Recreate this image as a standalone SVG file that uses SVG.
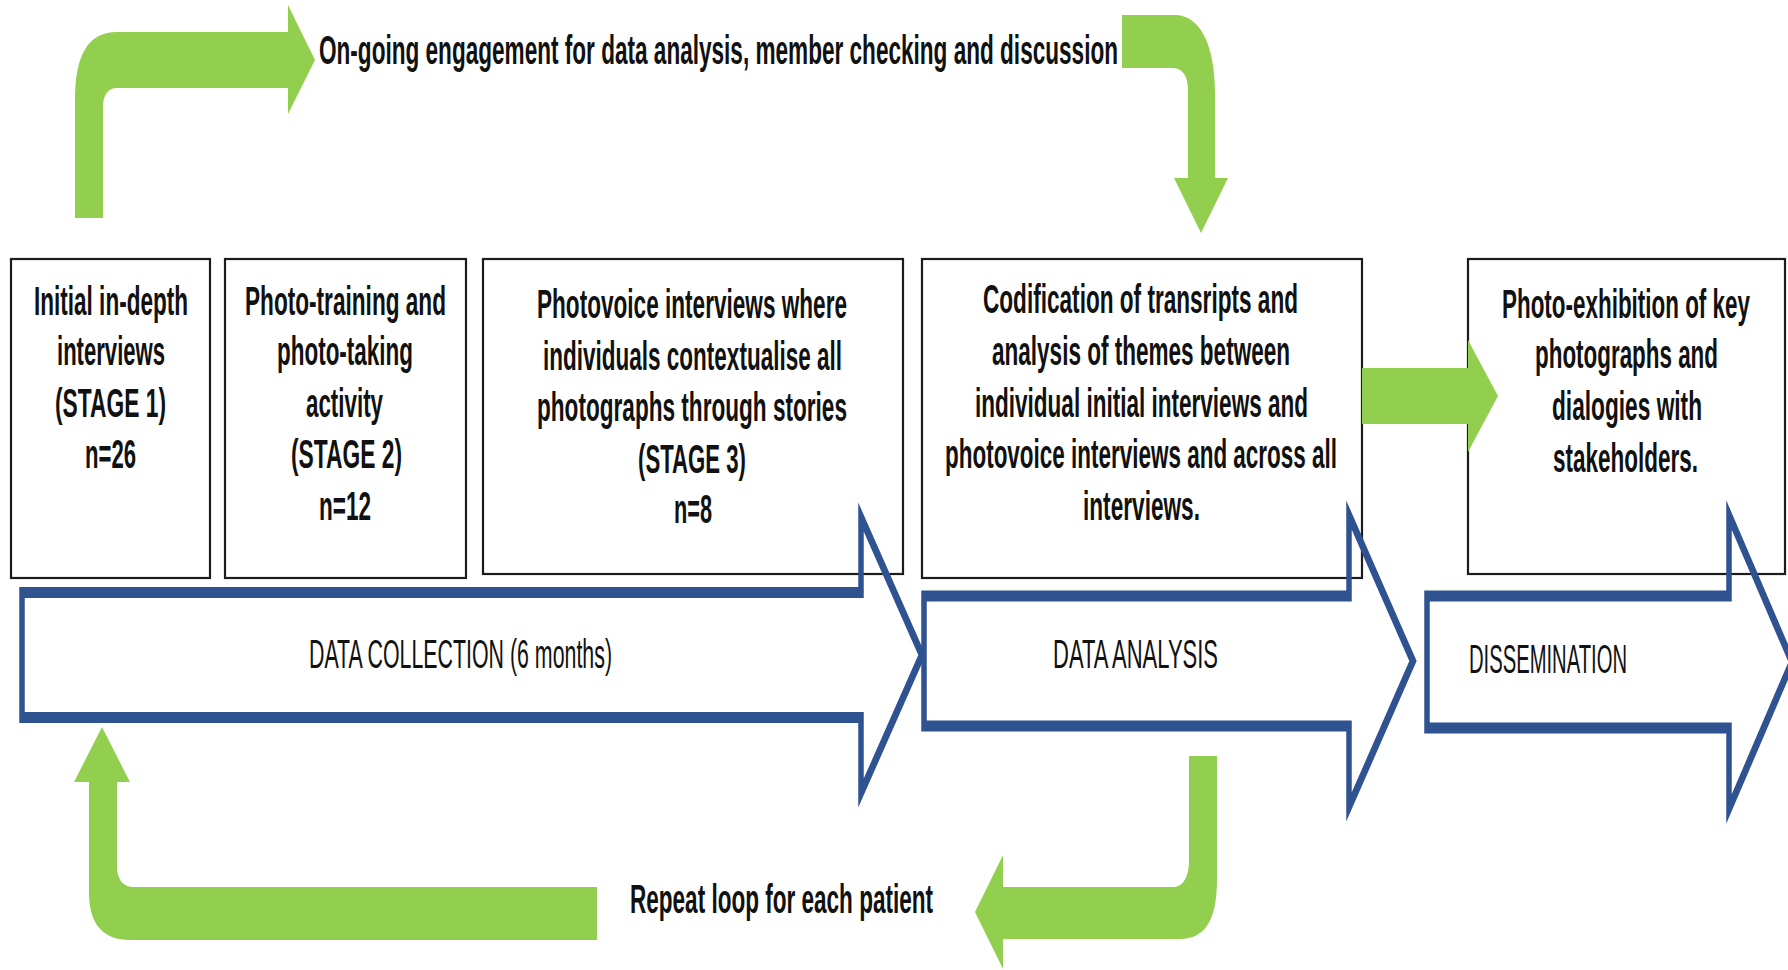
<svg xmlns="http://www.w3.org/2000/svg" width="1788" height="970" viewBox="0 0 1788 970">
  <style>
    .box { fill: #ffffff; stroke: #1c1c1c; stroke-width: 2.2; }
    .phase { fill: none; stroke: #2f5290; stroke-width: 5.5; stroke-linejoin: miter; stroke-miterlimit: 8; }
    .flow { fill: #92cf4e; }
    .t { font-family: "Liberation Sans", Arial, sans-serif; font-weight: bold; font-size: 40px; fill: #111111; }
    .pl { font-family: "Liberation Sans", Arial, sans-serif; font-weight: normal; font-size: 41px; fill: #111111; }
  </style>
  <rect width="1788" height="970" fill="#ffffff"/>

  <!-- stage boxes -->
  <g id="stage1">
    <rect class="box" x="11" y="259" width="199" height="319"/>
    <text class="t" x="34" y="315" textLength="154" lengthAdjust="spacingAndGlyphs">Initial in-depth</text>
    <text class="t" x="57" y="365" textLength="108" lengthAdjust="spacingAndGlyphs">interviews</text>
    <text class="t" x="55" y="417" textLength="111" lengthAdjust="spacingAndGlyphs">(STAGE 1)</text>
    <text class="t" x="85" y="468" textLength="51" lengthAdjust="spacingAndGlyphs">n=26</text>
  </g>
  <g id="stage2">
    <rect class="box" x="225" y="259" width="241" height="319"/>
    <text class="t" x="245" y="315" textLength="201" lengthAdjust="spacingAndGlyphs">Photo-training and</text>
    <text class="t" x="277" y="365" textLength="136" lengthAdjust="spacingAndGlyphs">photo-taking</text>
    <text class="t" x="306" y="417" textLength="77" lengthAdjust="spacingAndGlyphs">activity</text>
    <text class="t" x="291" y="468" textLength="111" lengthAdjust="spacingAndGlyphs">(STAGE 2)</text>
    <text class="t" x="319" y="520" textLength="52" lengthAdjust="spacingAndGlyphs">n=12</text>
  </g>
  <g id="stage3">
    <rect class="box" x="483" y="259" width="420" height="315"/>
    <text class="t" x="537" y="318" textLength="310" lengthAdjust="spacingAndGlyphs">Photovoice interviews where</text>
    <text class="t" x="543" y="370" textLength="299" lengthAdjust="spacingAndGlyphs">individuals contextualise all</text>
    <text class="t" x="537" y="421" textLength="310" lengthAdjust="spacingAndGlyphs">photographs through stories</text>
    <text class="t" x="638" y="473" textLength="108" lengthAdjust="spacingAndGlyphs">(STAGE 3)</text>
    <text class="t" x="674" y="523" textLength="38" lengthAdjust="spacingAndGlyphs">n=8</text>
  </g>
  <g id="analysis">
    <rect class="box" x="922" y="259" width="440" height="319"/>
    <text class="t" x="983" y="313" textLength="315" lengthAdjust="spacingAndGlyphs">Codification of transripts and</text>
    <text class="t" x="992" y="365" textLength="298" lengthAdjust="spacingAndGlyphs">analysis of themes between</text>
    <text class="t" x="975" y="417" textLength="333" lengthAdjust="spacingAndGlyphs">individual initial interviews and</text>
    <text class="t" x="945" y="468" textLength="392" lengthAdjust="spacingAndGlyphs">photovoice interviews and across all</text>
    <text class="t" x="1083" y="520" textLength="117" lengthAdjust="spacingAndGlyphs">interviews.</text>
  </g>
  <g id="exhibition">
    <rect class="box" x="1468" y="259" width="317" height="315"/>
    <text class="t" x="1502" y="318" textLength="248" lengthAdjust="spacingAndGlyphs">Photo-exhibition of key</text>
    <text class="t" x="1535" y="368" textLength="183" lengthAdjust="spacingAndGlyphs">photographs and</text>
    <text class="t" x="1552" y="420" textLength="150" lengthAdjust="spacingAndGlyphs">dialogies with</text>
    <text class="t" x="1553" y="472" textLength="145" lengthAdjust="spacingAndGlyphs">stakeholders.</text>
  </g>

  <!-- phase chevrons (outline stretched vertically so the long edges read heavier) -->
  <g id="phase-collection">
    <g transform="translate(0,655) scale(1,2)">
      <path class="phase" d="M22 -31.25 L861 -31.25 L861 -69 L922 0 L861 69 L861 31.25 L22 31.25 Z"/>
    </g>
    <text class="pl" x="309" y="668" textLength="303" lengthAdjust="spacingAndGlyphs">DATA COLLECTION (6 months)</text>
  </g>
  <g id="phase-analysis">
    <g transform="translate(0,661) scale(1,2)">
      <path class="phase" d="M924 -32.5 L1349 -32.5 L1349 -73 L1413 0 L1349 73 L1349 32.5 L924 32.5 Z"/>
    </g>
    <text class="pl" x="1053" y="668" textLength="165" lengthAdjust="spacingAndGlyphs">DATA ANALYSIS</text>
  </g>
  <g id="phase-dissemination">
    <g transform="translate(0,662) scale(1,2)">
      <path class="phase" d="M1427 -33 L1729 -33 L1729 -73.5 L1792 0 L1729 73.5 L1729 33 L1427 33 Z"/>
    </g>
    <text class="pl" x="1469" y="673" textLength="158" lengthAdjust="spacingAndGlyphs">DISSEMINATION</text>
  </g>

  <!-- green flow arrows -->
  <g id="connectors">
    <path id="engage-out" class="flow" d="M75 218 L75 100 C75 55 88 32 117 32 L288 32 L288 5 L315 60 L288 114 L288 88 L117 88 C108 88 103 95 103 107 L103 218 Z"/>
    <path id="engage-in" class="flow" d="M1122 15 L1175 15 C1200 15 1215 45 1215 93 L1215 178 L1228 178 L1201 233 L1174 178 L1188 178 L1188 90 C1188 75 1182 68 1172 68 L1122 68 Z"/>
    <path id="to-exhibition" class="flow" d="M1362 368 L1468 368 L1468 340 L1498 396 L1468 452 L1468 424 L1362 424 Z"/>
    <path id="loop-out" class="flow" d="M1189 756 L1217 756 L1217 880 C1217 920 1205 939 1180 939 L1003 939 L1003 969 L975 912 L1003 855 L1003 887 L1173 887 C1183 887 1189 877 1189 860 Z"/>
    <path id="loop-in" class="flow" d="M597 887 L133 887 C124 887 117 880 117 867 L117 782 L130 782 L102 727 L74 782 L89 782 L89 893 C89 925 104 940 130 940 L597 940 Z"/>
    <text class="t" x="319" y="64" textLength="799" lengthAdjust="spacingAndGlyphs">On-going engagement for data analysis, member checking and discussion</text>
    <text class="t" x="630" y="913" font-size="42" textLength="303" lengthAdjust="spacingAndGlyphs">Repeat loop for each patient</text>
  </g>
</svg>
